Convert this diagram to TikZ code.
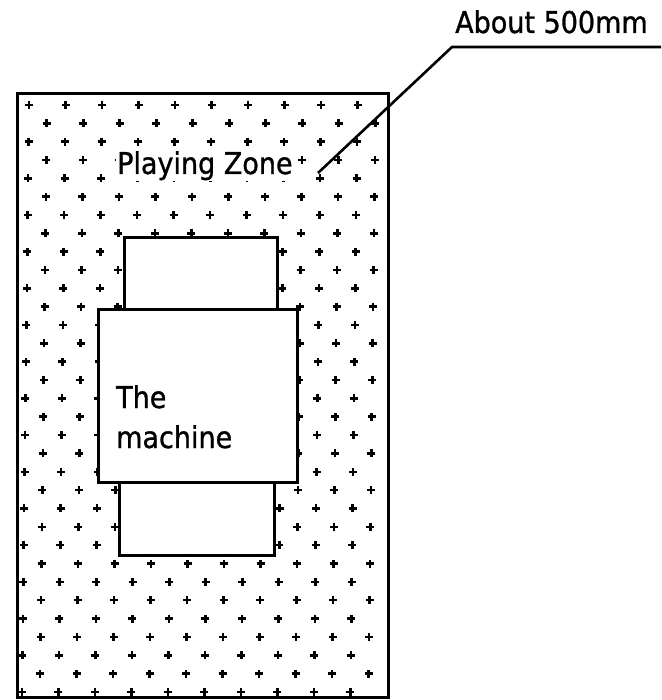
\documentclass[tikz,border=0pt]{standalone}
\usepackage{fontspec}
\setmainfont{DejaVu Sans}[FakeStretch=0.9,FakeBold=1]
\begin{document}
\begin{tikzpicture}[x=1pt,y=-1pt,
  zone/.style={draw=black,line width=3pt},
  boxw/.style={draw=black,fill=white,line width=3pt},
  lbl/.style={font=\fontsize{30}{36}\selectfont,inner sep=0pt,anchor=base west},
  crossmark/.style={line width=2.6pt,black},
  leader/.style={draw=black,line width=2.6pt}]
\useasboundingbox (0,0) rectangle (661,700);
% playing zone
\node[zone,minimum width=371pt,minimum height=604pt,inner sep=0pt,anchor=north west] (zone) at (16,92) {};
% crosses
\foreach \r in {0,...,32}{
  \pgfmathsetmacro{\yy}{105+\r*18.34}
  \pgfmathsetmacro{\xo}{(mod(\r,2)==0 ? 29 : 47) - 0.22*\r}
  \foreach \k in {0,...,9}{
    \pgfmathsetmacro{\xx}{\xo+36.5*\k}
    \draw[crossmark] (\xx-4,\yy) -- (\xx+4,\yy) (\xx,\yy-4) -- (\xx,\yy+4);
  }
}
% machine parts
\node[boxw,minimum width=153pt,minimum height=72pt,inner sep=0pt,anchor=north west] (top) at (123,236) {};
\node[boxw,minimum width=155pt,minimum height=73pt,inner sep=0pt,anchor=north west] (bottom) at (118,481) {};
\node[boxw,minimum width=199pt,minimum height=173pt,inner sep=0pt,anchor=north west] (machine) at (97,308) {};
% texts
\node[lbl,fill=white,inner sep=1pt] (pz) at (116,174) {Playing Zone};
\node[lbl] (the) at (116,408) {The};
\node[lbl] (mach) at (116,448) {machine};
\node[lbl] (about) at (455,33) {About 500mm};
% leader
\coordinate (elbow) at (452,47);
\coordinate (tip) at (318,173);
\coordinate (rend) at (661,47);
\draw[leader] (tip) -- (elbow) -- (rend);
\end{tikzpicture}
\end{document}
